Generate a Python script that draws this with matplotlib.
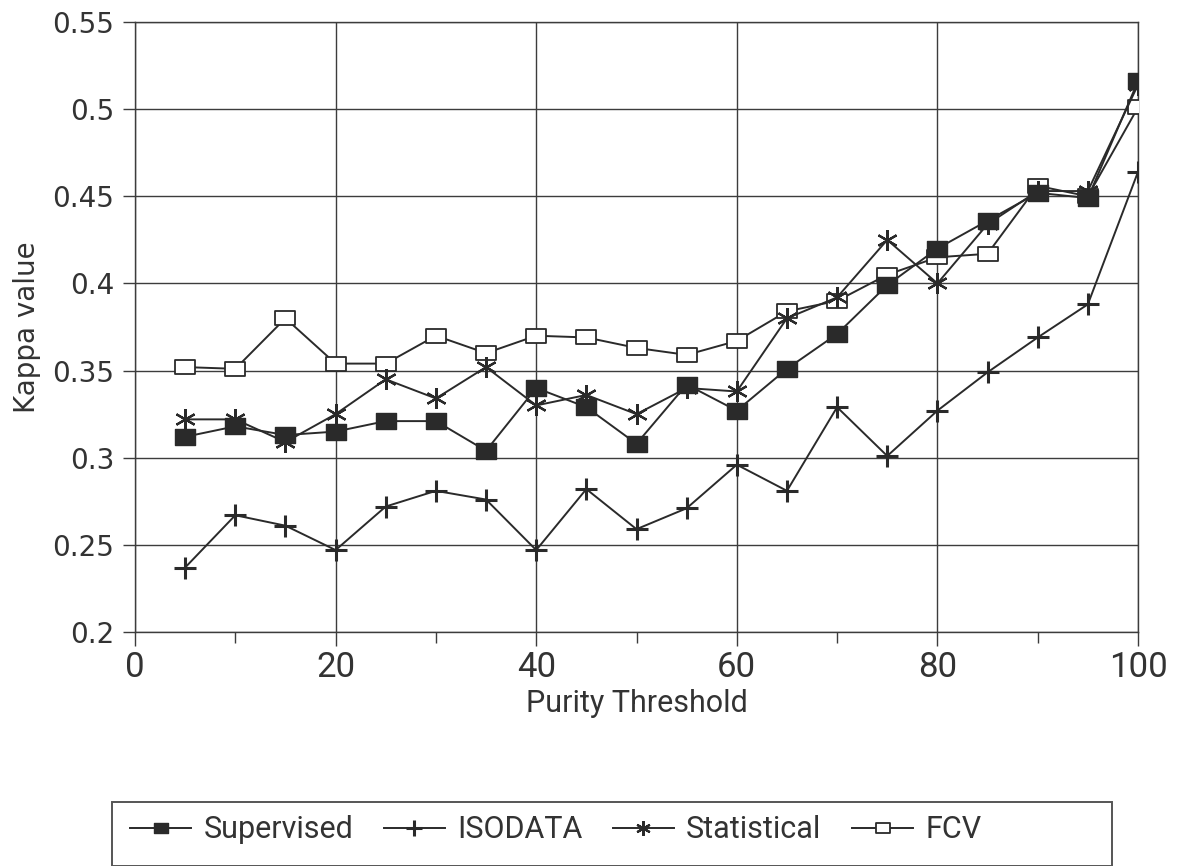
import numpy as np
import matplotlib
matplotlib.use("Agg")
import matplotlib.pyplot as plt
from matplotlib.path import Path
from matplotlib.patches import Rectangle

threshold = [5, 10, 15, 20, 25, 30, 35, 40, 45, 50, 55, 60, 65, 70, 75, 80, 85, 90, 95, 100]

supervised = [0.312, 0.318, 0.313, 0.315, 0.321, 0.321, 0.304, 0.340, 0.329, 0.308,
              0.342, 0.327, 0.351, 0.371, 0.399, 0.420, 0.436, 0.452, 0.449, 0.516]
isodata = [0.237, 0.267, 0.261, 0.247, 0.272, 0.281, 0.276, 0.247, 0.282, 0.259,
           0.271, 0.296, 0.281, 0.329, 0.301, 0.327, 0.349, 0.369, 0.388, 0.464]
statistical = [0.322, 0.322, 0.309, 0.325, 0.345, 0.334, 0.352, 0.330, 0.336, 0.325,
               0.340, 0.338, 0.380, 0.392, 0.425, 0.400, 0.434, 0.453, 0.453, 0.514]
fcv = [0.352, 0.351, 0.380, 0.354, 0.354, 0.370, 0.360, 0.370, 0.369, 0.363,
       0.359, 0.367, 0.384, 0.390, 0.405, 0.415, 0.417, 0.456, 0.450, 0.501]

x_ticks = [0, 20, 40, 60, 80, 100]
y_ticks = [0.2, 0.25, 0.3, 0.35, 0.4, 0.45, 0.5, 0.55]
y_labels = ["0.2", "0.25", "0.3", "0.35", "0.4", "0.45", "0.5", "0.55"]

narrow = ["Roboto", "DejaVu Sans"]
wide = ["DejaVu Sans"]
ink = "#2a2a2a"
text_col = "#333333"
grid_col = "#3c3c3c"

# wide rectangle used for the two square markers
rect = Path([(-1.35, -1), (1.35, -1), (1.35, 1), (-1.35, 1), (-1.35, -1)],
            [Path.MOVETO, Path.LINETO, Path.LINETO, Path.LINETO, Path.CLOSEPOLY])

W, H = 1178, 866
fig = plt.figure(figsize=(W / 100, H / 100), dpi=100)
ax = fig.add_axes([135 / W, 1 - 632 / H, 1003 / W, 610 / H])

ax.plot(threshold, supervised, color=ink, lw=1.4, marker=rect, ms=15,
        mfc=ink, mec=ink, label="Supervised", zorder=5)
ax.plot(threshold, isodata, color=ink, lw=1.4, marker="+", ms=16, mew=2.2,
        label="ISODATA", zorder=4)
ax.plot(threshold, statistical, color=ink, lw=1.4, marker=(6, 2, 0), ms=15, mew=1.6,
        label="Statistical", zorder=4)
ax.plot(threshold, fcv, color=ink, lw=1.4, marker=rect, ms=14, mfc="white",
        mec=ink, mew=1.3, label="FCV", zorder=3)

ax.set_xlim(0, 100)
ax.set_ylim(0.2, 0.55)
ax.set_xticks(x_ticks)
ax.set_xticks([10, 30, 50, 70, 90], minor=True)
ax.set_yticks(y_ticks)
ax.set_yticklabels(y_labels, fontsize=20, family=wide, color=text_col)
ax.set_xticklabels([str(t) for t in x_ticks], fontsize=25, family=narrow, color=text_col)

ax.grid(True, which="major", color=grid_col, lw=1.0)
ax.set_axisbelow(True)
for s in ax.spines.values():
    s.set_color(grid_col)
    s.set_linewidth(1.0)

ax.tick_params(axis="y", direction="out", length=9, width=1, color=grid_col, pad=6)
ax.tick_params(axis="x", which="major", direction="out", length=10, width=1,
               color=grid_col, pad=4)
ax.tick_params(axis="x", which="minor", direction="out", length=8, width=1,
               color=grid_col)

ax.set_xlabel("Purity Threshold", fontsize=22, family=narrow, color=text_col, labelpad=3)
ax.set_ylabel("Kappa value", fontsize=20, family=wide, color=text_col, labelpad=8)

# legend box along the bottom edge
fig.patches.append(Rectangle((112 / W, 0.0), 1000 / W, 64 / H, transform=fig.transFigure,
                             fill=False, edgecolor="#555555", lw=1.4))
handles, labels = ax.get_legend_handles_labels()
leg = fig.legend(handles, labels, loc="center left",
                 bbox_to_anchor=(130 / W, 36 / H), ncol=4, frameon=False,
                 prop={"family": narrow, "size": 22}, handlelength=2.0,
                 handletextpad=0.4, columnspacing=1.0, borderaxespad=0.0,
                 borderpad=0.0, markerscale=0.7)
for t in leg.get_texts():
    t.set_color(text_col)

fig.savefig("out.png", dpi=100, facecolor="white")
